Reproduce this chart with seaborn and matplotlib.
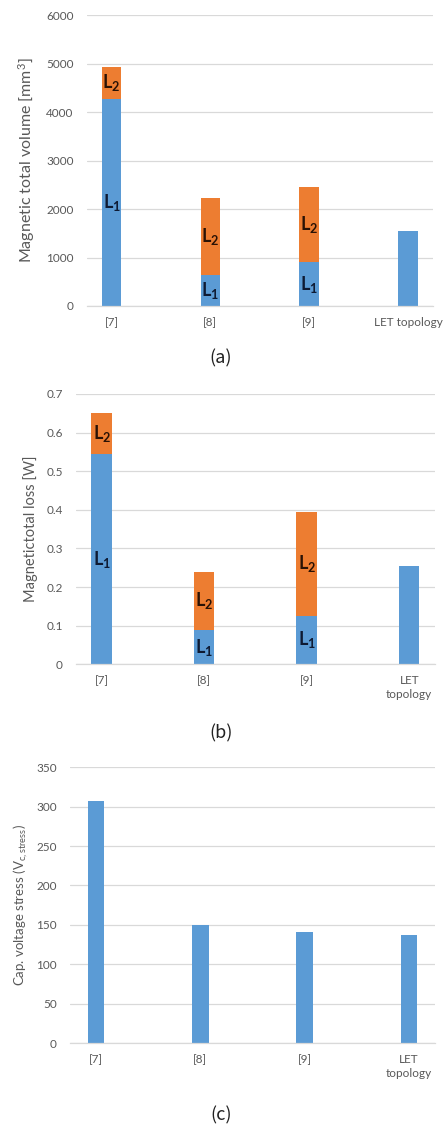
import matplotlib
matplotlib.use("Agg")
import matplotlib.pyplot as plt
import seaborn as sns
import pandas as pd
import numpy as np

# Compared designs
categories = ["[7]", "[8]", "[9]", "LET topology"]
categories_wrapped = ["[7]", "[8]", "[9]", "LET\ntopology"]

# Magnetic total volume [mm^3], split per inductor
volume_L1 = [4280, 640, 900, 1540]
volume_L2 = [660, 1580, 1560, 0]

# Magnetic total loss [W], split per inductor
loss_L1 = [0.544, 0.089, 0.126, 0.255]
loss_L2 = [0.106, 0.151, 0.268, 0.0]

# Capacitor voltage stress [V]
cap_stress = [307, 150, 141, 137]

BLUE = "#5B9BD5"
ORANGE = "#ED7D31"
GRID = "#D9D9D9"
TXT = "#595959"

sns.set_theme(style="white")
plt.rcParams["font.family"] = ["Lato", "DejaVu Sans"]
plt.rcParams["mathtext.fontset"] = "custom"
plt.rcParams["mathtext.rm"] = "Lato"
plt.rcParams["mathtext.it"] = "Lato:italic"
plt.rcParams["mathtext.bf"] = "Lato:bold"

fig = plt.figure(figsize=(4.43, 11.27), dpi=100)
fig.patch.set_facecolor("white")


def style_axes(ax, yticks, ylabels, xlabels, label_x):
    ax.set_xlim(-0.25, 3.25)
    ax.set_ylim(yticks[0], yticks[-1])
    ax.set_yticks(yticks)
    ax.set_yticklabels(ylabels, fontsize=8.5, color=TXT)
    ax.set_xticks(range(len(xlabels)))
    ax.set_xticklabels(xlabels, fontsize=8.5, color=TXT, linespacing=1.3)
    ax.tick_params(axis="both", length=0)
    ax.tick_params(axis="y", pad=9.5)
    ax.tick_params(axis="x", pad=8)
    ax.yaxis.grid(True, color=GRID, linewidth=0.9)
    ax.set_axisbelow(True)
    for s in ["top", "right", "left"]:
        ax.spines[s].set_visible(False)
    ax.spines["bottom"].set_color(GRID)
    ax.spines["bottom"].set_linewidth(0.9)
    ax.set_xlabel("")
    ax.yaxis.set_label_coords(label_x, 0.5)


def stacked(ax, lower, upper, width):
    total = [a + b for a, b in zip(lower, upper)]
    df = pd.DataFrame({"design": categories, "L1": lower, "total": total})
    sns.barplot(data=df, x="design", y="total", color=ORANGE, saturation=1,
                width=width, linewidth=0, ax=ax)
    sns.barplot(data=df, x="design", y="L1", color=BLUE, saturation=1,
                width=width, linewidth=0, ax=ax)
    for i, (a, b) in enumerate(zip(lower, upper)):
        if b > 0:
            ax.text(i, a / 2, r"$\mathbf{L_1}$", ha="center", va="center",
                    fontsize=13, color="#0E1A33")
            ax.text(i, a + b / 2, r"$\mathbf{L_2}$", ha="center", va="center",
                    fontsize=13, color="#2A1205")


# (a) volume
ax1 = fig.add_axes([0.196, 0.7285, 0.781, 0.258])
stacked(ax1, volume_L1, volume_L2, 0.2)
ax1.set_ylabel("Magnetic total volume [mm$^3$]", fontsize=11.5, color=TXT)
style_axes(ax1, np.arange(0, 6001, 1000), [str(v) for v in range(0, 6001, 1000)],
           categories, -0.145)

# (b) loss
ax2 = fig.add_axes([0.1716, 0.4106, 0.810, 0.2398])
stacked(ax2, loss_L1, loss_L2, 0.2)
ax2.set_ylabel("Magnetictotal loss [W]", fontsize=10.5, color=TXT)
style_axes(ax2, np.round(np.arange(0, 0.71, 0.1), 1),
           ["0"] + [f"{v:.1f}" for v in np.arange(0.1, 0.71, 0.1)],
           categories_wrapped, -0.106)

# (c) capacitor voltage stress
ax3 = fig.add_axes([0.158, 0.0743, 0.824, 0.245])
df_c = pd.DataFrame({"design": categories, "stress": cap_stress})
sns.barplot(data=df_c, x="design", y="stress", color=BLUE, saturation=1,
            width=0.16, linewidth=0, ax=ax3)
ax3.set_ylabel(r"Cap. voltage stress (V$_{\mathrm{c,stress}}$)", fontsize=9.5, color=TXT)
style_axes(ax3, np.arange(0, 351, 50), [str(v) for v in range(0, 351, 50)],
           categories_wrapped, -0.11)

# Panel captions
for y, lab in [(0.682, "(a)"), (0.3496, "(b)"), (0.0107, "(c)")]:
    fig.text(0.499, y, lab, ha="center", va="center", fontsize=13,
             color="#222222", family=["Noto Sans CJK JP", "DejaVu Sans"])

fig.savefig("out.png", dpi=100, facecolor="white")
